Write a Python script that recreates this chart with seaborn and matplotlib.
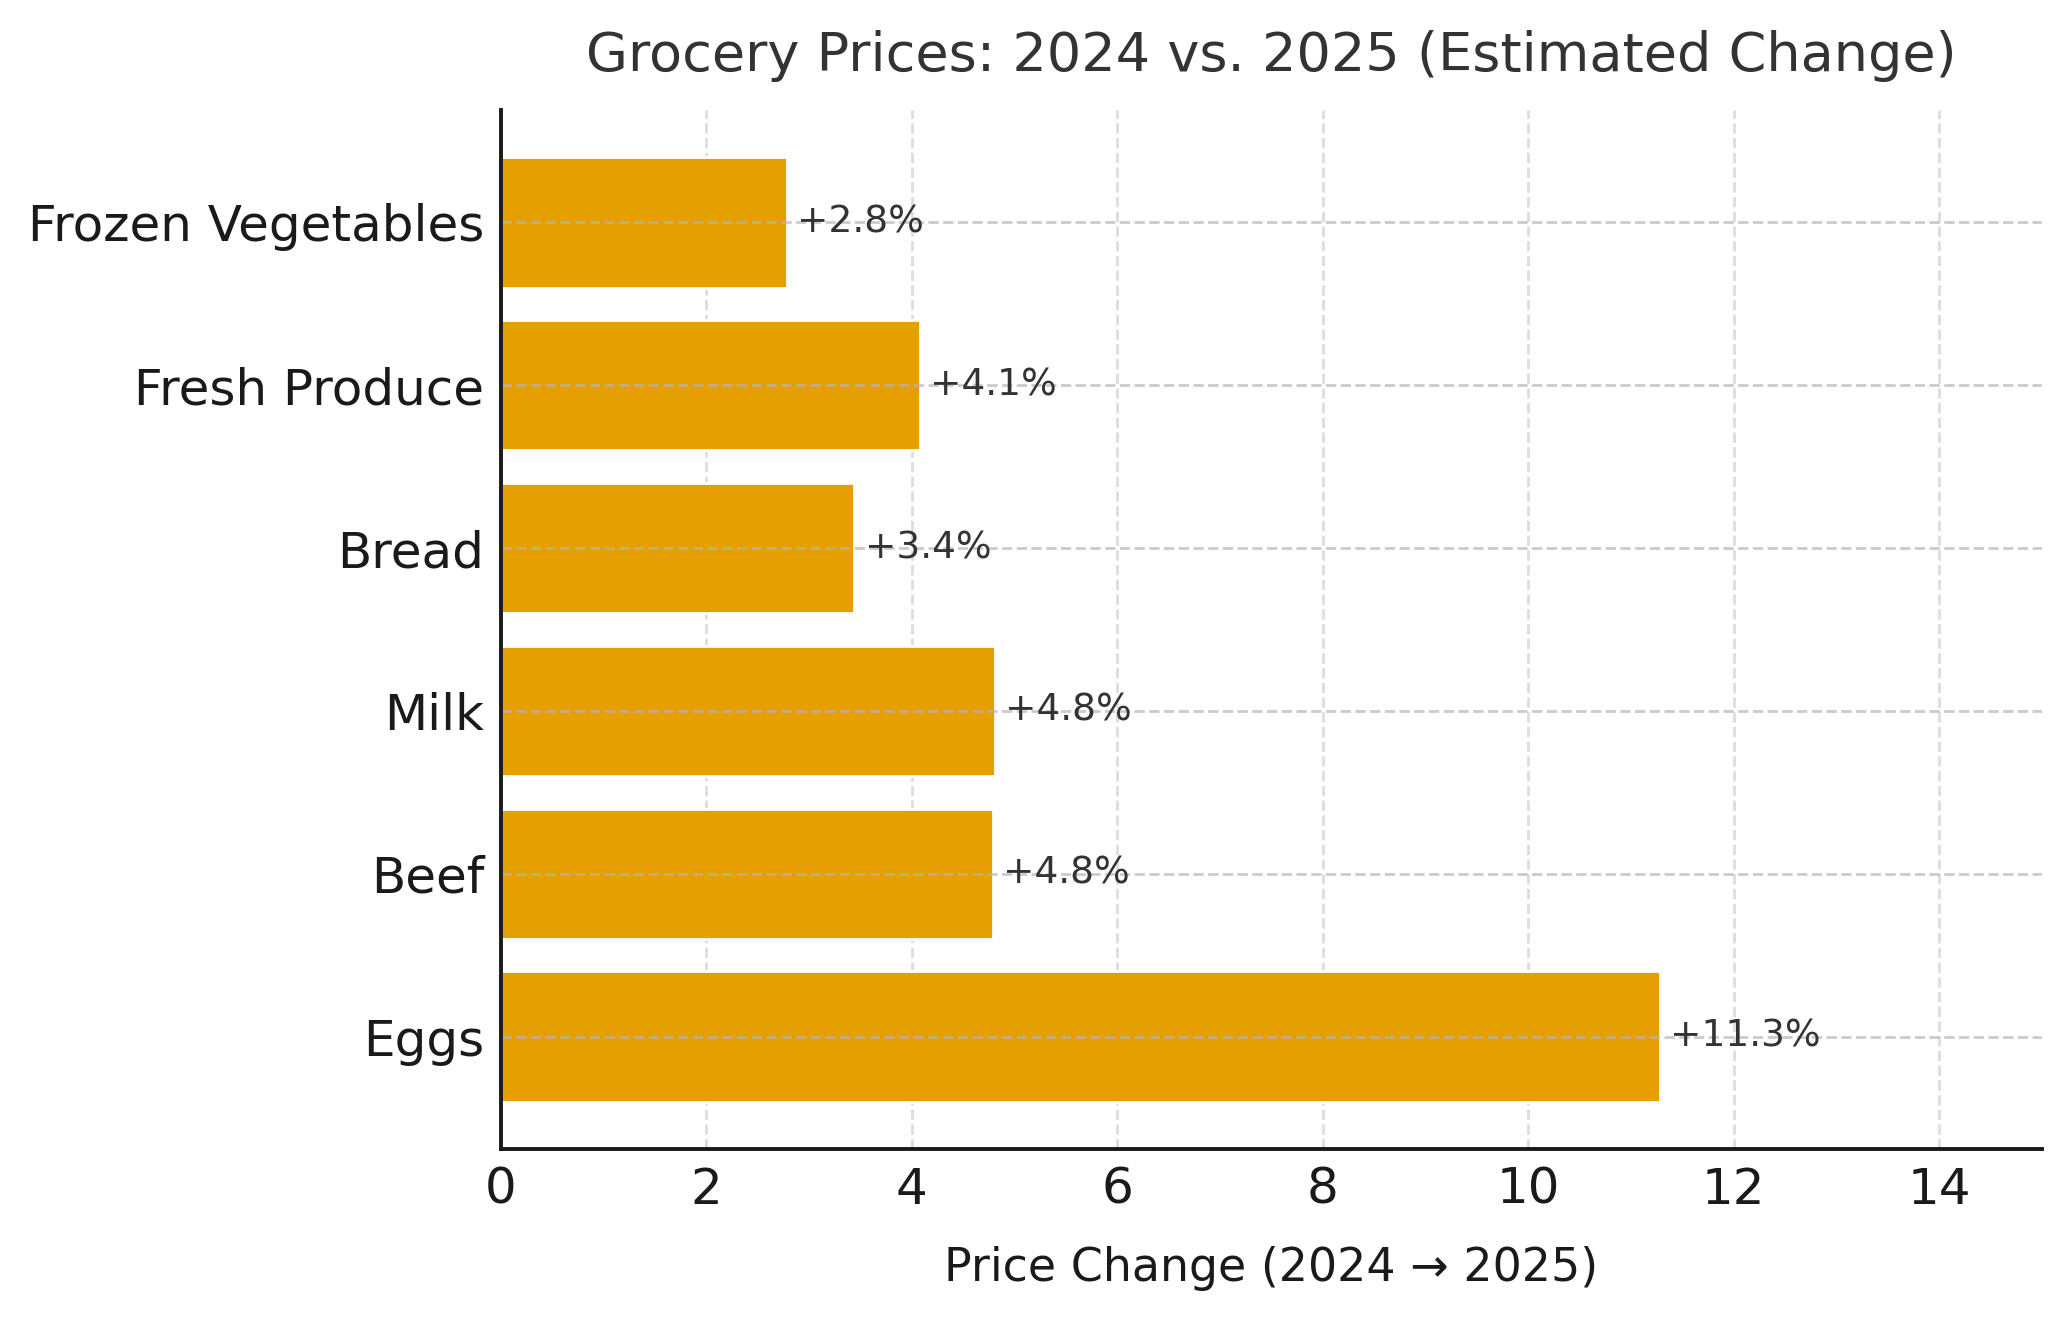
import matplotlib
matplotlib.use("Agg")
import matplotlib.pyplot as plt
import seaborn as sns
import pandas as pd

categories = ["Frozen Vegetables", "Fresh Produce", "Bread", "Milk", "Beef", "Eggs"]
changes = [2.78, 4.08, 3.44, 4.81, 4.79, 11.28]
labels = ["+2.8%", "+4.1%", "+3.4%", "+4.8%", "+4.8%", "+11.3%"]
xticks = [0, 2, 4, 6, 8, 10, 12, 14]

df = pd.DataFrame({"category": categories, "change": changes})

sns.set_style("white")
plt.rcParams["font.family"] = ["DejaVu Sans"]

fig = plt.figure(figsize=(10.35, 6.6), dpi=200)
ax = fig.add_axes([501 / 2070, 1 - 1149 / 1320, (2042 - 501) / 2070, (1149 - 110) / 1320])

sns.barplot(data=df, x="change", y="category", color="#E69F00", saturation=1,
            width=0.8, orient="h", ax=ax)
for p in ax.patches:
    p.set_zorder(1)

ax.set_xlim(0, 15)
ax.set_ylim(5.69, -0.69)
ax.set_xticks(xticks)

ax.grid(axis="x", color="#dddddd", linestyle="--", linewidth=1.0)
ax.grid(axis="y", color="#b5b5b5", linestyle="--", linewidth=1.0, alpha=0.7)
ax.xaxis.set_zorder(0.5)
ax.yaxis.set_zorder(3)

for i, (v, t) in enumerate(zip(changes, labels)):
    ax.text(v + 0.1, i, t, va="center", ha="left", fontsize=13.5, color="#333333", zorder=4)

for s in ["top", "right"]:
    ax.spines[s].set_visible(False)
for s in ["left", "bottom"]:
    ax.spines[s].set_color("#1a1a1a")
    ax.spines[s].set_linewidth(1.4)
    ax.spines[s].set_zorder(6)

ax.tick_params(axis="both", direction="in", length=4.7, width=1.2, color="#1a1a1a",
               labelsize=18, labelcolor="#1a1a1a", pad=6)
ax.set_ylabel("")
ax.set_xlabel("Price Change (2024 \u2192 2025)", fontsize=16.5, color="#1a1a1a", labelpad=11.5)
ax.set_title("Grocery Prices: 2024 vs. 2025 (Estimated Change)", fontsize=19.5,
             color="#333333", pad=14)

fig.savefig("out.png", dpi=200)
